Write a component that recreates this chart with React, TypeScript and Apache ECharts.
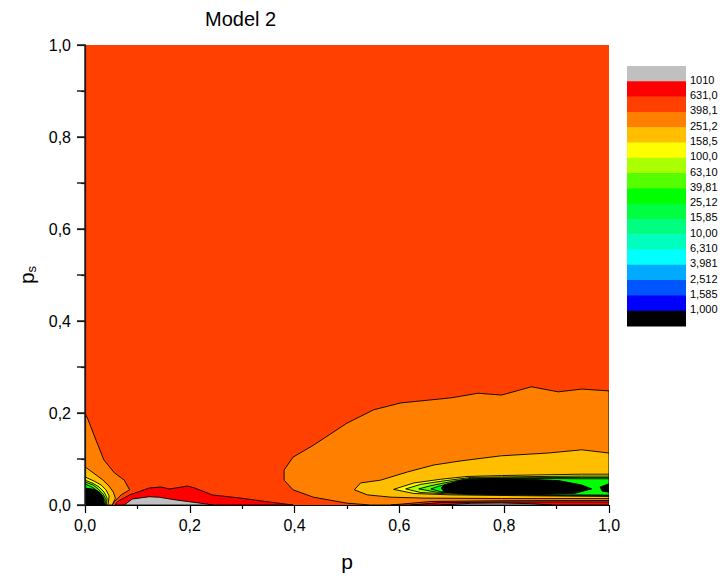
import React, { useEffect, useRef } from "react";
import * as echarts from "echarts";

// ---- Data (p, ps) ----
const levelLabels = ["1010", "631,0", "398,1", "251,2", "158,5", "100,0", "63,10", "39,81", "25,12", "15,85", "10,00", "6,310", "3,981", "2,512", "1,585", "1,000"];
const bandColors = ["#C0C0C0", "#FF0000", "#FF4000", "#FF8000", "#FFBF00", "#FFFF00", "#AAFF00", "#55FF00", "#00FF00", "#00FF40", "#00FF80", "#00FFBF", "#00FFFF", "#00AAFF", "#0055FF", "#0000FF", "#000000"];
const xTicks = [0, 0.2, 0.4, 0.6, 0.8, 1.0];
const yTicks = [0, 0.2, 0.4, 0.6, 0.8, 1.0];

const fullField = [[0, 0], [1, 0], [1, 1], [0, 1]];
const orangeRight = [[1.0, 0.248], [0.948, 0.252], [0.903, 0.246], [0.852, 0.257], [0.795, 0.239], [0.75, 0.243], [0.699, 0.233], [0.647, 0.227], [0.603, 0.222], [0.551, 0.207], [0.5, 0.178], [0.436, 0.13], [0.397, 0.104], [0.38, 0.076], [0.38, 0.054], [0.397, 0.033], [0.436, 0.017], [0.5, 0.004], [0.545, 0], [1.0, 0]];
const amberRight = [[1.0, 0.113], [0.948, 0.12], [0.884, 0.113], [0.795, 0.107], [0.718, 0.096], [0.666, 0.087], [0.616, 0.072], [0.564, 0.054], [0.526, 0.048], [0.514, 0.033], [0.539, 0.022], [0.584, 0.017], [0.647, 0.015], [0.795, 0.014], [1.0, 0.014]];
const yellowRight = [[1.0, 0.067], [0.948, 0.067], [0.795, 0.064], [0.729, 0.062], [0.679, 0.056], [0.628, 0.048], [0.589, 0.034], [0.628, 0.025], [0.699, 0.022], [0.852, 0.02], [1.0, 0.0185]];
const limeRight = [[1.0, 0.063], [0.948, 0.063], [0.795, 0.061], [0.737, 0.06], [0.689, 0.053], [0.641, 0.045], [0.612, 0.035], [0.641, 0.027], [0.718, 0.023], [0.852, 0.021], [1.0, 0.02]];
const chartreuseRight = [[1.0, 0.06], [0.948, 0.06], [0.795, 0.059], [0.737, 0.058], [0.699, 0.051], [0.66, 0.042], [0.637, 0.035], [0.67, 0.028], [0.737, 0.024], [0.871, 0.022], [1.0, 0.021]];
const greenRight = [[1.0, 0.057], [0.958, 0.057], [0.795, 0.058], [0.737, 0.057], [0.708, 0.05], [0.676, 0.041], [0.66, 0.035], [0.679, 0.029], [0.737, 0.025], [0.871, 0.0225], [1.0, 0.0215]];
const blackRight = [[0.6795, 0.037], [0.685, 0.0435], [0.718, 0.054], [0.775, 0.058], [0.846, 0.056], [0.904, 0.053], [0.948, 0.0435], [0.967, 0.035], [0.935, 0.0254], [0.871, 0.0233], [0.775, 0.0233], [0.699, 0.026], [0.685, 0.029]];
const blackRightEdge = [[0.983, 0.039], [1.0, 0.046], [1.0, 0.028], [0.987, 0.03]];
const orangeRedStripRight = [[0.584, 0], [0.66, 0.0076], [0.795, 0.0093], [1.0, 0.0098], [1.0, 0]];
const redStripRight = [[0.622, 0], [0.679, 0.0054], [0.795, 0.0065], [1.0, 0.0065], [1.0, 0]];
const grayStripRight = [[0.679, 0], [0.737, 0.0037], [0.795, 0.0043], [0.852, 0.0028], [0.891, 0]];

const orangeLeft = [[0, 0.2], [0.006, 0.185], [0.021, 0.141], [0.036, 0.098], [0.056, 0.07], [0.075, 0.054], [0.085, 0.033], [0.069, 0.022], [0.056, 0.007], [0.052, 0], [0, 0]];
const amberLeft = [[0, 0.083], [0.0192, 0.067], [0.0345, 0.054], [0.046, 0.041], [0.054, 0.028], [0.058, 0.015], [0.052, 0], [0, 0]];
const yellowLeft = [[0, 0.061], [0.0173, 0.052], [0.0307, 0.0435], [0.0403, 0.0326], [0.046, 0.0196], [0.044, 0], [0, 0]];
const limeLeft = [[0, 0.054], [0.0154, 0.047], [0.0269, 0.039], [0.0365, 0.028], [0.0422, 0.015], [0.0413, 0], [0, 0]];
const chartreuseLeft = [[0, 0.05], [0.0154, 0.0435], [0.025, 0.035], [0.0345, 0.024], [0.0403, 0.011], [0.0393, 0], [0, 0]];
const greenLeft = [[0, 0.0457], [0.0134, 0.039], [0.023, 0.0315], [0.0326, 0.0217], [0.0384, 0.0087], [0.0384, 0], [0, 0]];
const blackLeft = [[0, 0.037], [0.0173, 0.034], [0.0288, 0.027], [0.0345, 0.0174], [0.0374, 0], [0, 0]];
const redCenter = [[0.0576, 0], [0.0614, 0.0072], [0.0845, 0.0217], [0.1228, 0.037], [0.1453, 0.0391], [0.1612, 0.0348], [0.1958, 0.0413], [0.2092, 0.037], [0.2438, 0.0217], [0.2956, 0.0152], [0.3468, 0.0072], [0.3973, 0]];
const grayCenter = [[0.0749, 0], [0.0902, 0.013], [0.1228, 0.018], [0.142, 0.0167], [0.1741, 0.0109], [0.2317, 0.0022], [0.2438, 0]];

// drawing order: [region, band index, stroke]
const layers: [number[][], number, boolean][] = [
  [fullField, 2, false],
  [orangeRight, 3, true],
  [amberRight, 4, true],
  [orangeRedStripRight, 2, true],
  [redStripRight, 1, true],
  [grayStripRight, 0, true],
  [yellowRight, 5, true],
  [limeRight, 6, true],
  [chartreuseRight, 7, true],
  [greenRight, 8, true],
  [blackRight, 16, true],
  [blackRightEdge, 16, true],
  [orangeLeft, 3, true],
  [amberLeft, 4, true],
  [yellowLeft, 5, true],
  [limeLeft, 6, true],
  [chartreuseLeft, 7, true],
  [greenLeft, 8, true],
  [blackLeft, 16, true],
  [redCenter, 1, true],
  [grayCenter, 0, true],
];

const FONT = "'Liberation Sans', Arial, sans-serif";
const fmt = (v: number) => v.toFixed(1).replace(".", ",");

export default function App() {
  const ref = useRef<HTMLDivElement>(null);
  useEffect(() => {
    if (!ref.current) return;
    const chart = echarts.init(ref.current, undefined, { renderer: "svg" });

    const barX = 627, barTop = 66, barW = 59, bandH = 260 / bandColors.length;
    const graphics: any[] = [];
    bandColors.forEach((c, i) => {
      graphics.push({ type: "rect", left: barX, top: barTop + i * bandH, shape: { width: barW, height: bandH + 0.5 }, style: { fill: c } });
    });
    levelLabels.forEach((t, i) => {
      graphics.push({ type: "text", left: barX + barW + 4, top: barTop + (i + 1) * bandH - 7, style: { text: t, fontSize: 11, fontFamily: FONT, fill: "#000" } });
    });

    const axisCommon = {
      type: "value" as const,
      min: 0,
      max: 1,
      interval: 0.2,
      z: 10,
      splitLine: { show: false },
      axisLine: { show: true, onZero: false, lineStyle: { color: "#000", width: 1.2 } },
      axisTick: { show: true, inside: false, length: 8, lineStyle: { color: "#000", width: 1.2 } },
      minorTick: { show: true, splitNumber: 2, length: 4, lineStyle: { color: "#000", width: 1.2 } },
      axisLabel: { formatter: (v: number) => (xTicks.includes(Math.round(v * 10) / 10) ? fmt(v) : ""), fontSize: 16, color: "#000", fontFamily: FONT },
    };

    chart.setOption({
      animation: false,
      backgroundColor: "#fff",
      title: { text: "Model 2", left: 205, top: 9, padding: 0, textStyle: { fontSize: 20, fontWeight: "normal", color: "#000", fontFamily: FONT } },
      grid: { left: 85, right: 115, top: 45, bottom: 77 },
      xAxis: {
        ...axisCommon,
        position: "bottom",
        axisLabel: { ...axisCommon.axisLabel, margin: 12 },
        name: "p",
        nameLocation: "middle",
        nameGap: 46,
        nameTextStyle: { fontSize: 21, color: "#000", fontFamily: FONT },
      },
      yAxis: [
        {
          ...axisCommon,
          position: "left",
          axisLabel: { ...axisCommon.axisLabel, formatter: (v: number) => (yTicks.includes(Math.round(v * 10) / 10) ? fmt(v) : ""), margin: 14 },
          name: "{p|p}{s|s}",
          nameLocation: "middle",
          nameGap: 37,
          nameRotate: 90,
          nameTextStyle: {
            color: "#000",
            fontFamily: FONT,
            rich: {
              p: { fontSize: 21, fontFamily: FONT, color: "#000" },
              s: { fontSize: 13, fontFamily: FONT, color: "#000", verticalAlign: "bottom", padding: [10, 0, 0, 0] },
            },
          },
        },
        {
          type: "value",
          position: "right",
          min: 0,
          max: 1,
          interval: 0.1,
          z: 10,
          splitLine: { show: false },
          axisLine: { show: true, lineStyle: { color: "#222", width: 1.5 } },
          axisTick: { show: true, inside: true, length: 8, lineStyle: { color: "#222", width: 1.5 } },
          axisLabel: { show: false },
        },
      ],
      graphic: graphics,
      series: [
        {
          type: "custom",
          coordinateSystem: "cartesian2d",
          xAxisIndex: 0,
          yAxisIndex: 0,
          clip: true,
          data: layers.map(() => [0, 0]),
          renderItem: (params: any, api: any) => {
            const [pts, band, stroke] = layers[params.dataIndex];
            const points = pts.map((pt) => api.coord(pt));
            return {
              type: "polygon",
              shape: { points },
              style: { fill: bandColors[band], stroke: stroke ? "#000" : "none", lineWidth: 0.9, lineJoin: "round" },
            };
          },
        },
      ],
    });
    return () => chart.dispose();
  }, []);
  return <div ref={ref} style={{ position: "fixed", left: 0, top: 0, width: 724, height: 582 }} />;
}
